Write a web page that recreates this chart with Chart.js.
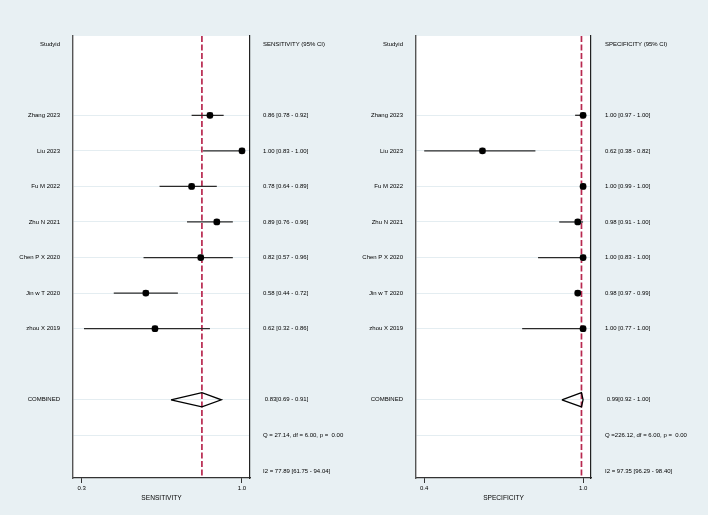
<!DOCTYPE html>
<html>
<head>
<meta charset="utf-8">
<script src="https://cdn.jsdelivr.net/npm/chart.js@4.4.0/dist/chart.umd.min.js"></script>
<style>
  body { margin: 0; background: #e8f0f3; }
  #wrap { width: 708px; height: 515px; display: flex; }
  .box { width: 354px; height: 515px; position: relative; }
</style>
</head>
<body>
<div id="wrap">
  <div class="box"><canvas id="sens"></canvas></div>
  <div class="box"><canvas id="spec"></canvas></div>
</div>
<script>
const studies = ['Zhang 2023', 'Liu 2023', 'Fu M 2022', 'Zhu N 2021', 'Chen P X 2020', 'Jin w T 2020', 'zhou X 2019'];

const sensEst = [0.86, 1.00, 0.78, 0.89, 0.82, 0.58, 0.62];
const sensLow = [0.78, 0.83, 0.64, 0.76, 0.57, 0.44, 0.31];
const sensHigh = [0.92, 1.00, 0.89, 0.96, 0.96, 0.72, 0.86];
const sensPooled = [0.825, 0.69, 0.91];
const sensText = ['0.86 [0.78 - 0.92]', '1.00 [0.83 - 1.00]', '0.78 [0.64 - 0.89]', '0.89 [0.76 - 0.96]',
  '0.82 [0.57 - 0.96]', '0.58 [0.44 - 0.72]', '0.62 [0.32 - 0.86]'];
const sensStats = [' 0.83[0.69 - 0.91]', 'Q = 27.14, df = 6.00, p =  0.00', 'I2 = 77.89 [61.75 - 94.04]'];

const specEst = [1.00, 0.62, 1.00, 0.98, 1.00, 0.98, 1.00];
const specLow = [0.97, 0.40, 0.99, 0.91, 0.83, 0.97, 0.77];
const specHigh = [1.00, 0.82, 1.00, 1.00, 1.00, 0.99, 1.00];
const specPooled = [0.994, 0.92, 1.00];
const specText = ['1.00 [0.97 - 1.00]', '0.62 [0.38 - 0.82]', '1.00 [0.99 - 1.00]', '0.98 [0.91 - 1.00]',
  '1.00 [0.83 - 1.00]', '0.98 [0.97 - 0.99]', '1.00 [0.77 - 1.00]'];
const specStats = [' 0.99[0.92 - 1.00]', 'Q =226.12, df = 6.00, p =  0.00', 'I2 = 97.35 [96.29 - 98.40]'];

const sensTicks = [0.3, 1.0];
const specTicks = [0.4, 1.0];

// rows: 0 header, 2-8 studies, 10 combined, 11 Q, 12 I2
const rows = [0, 1, 2, 3, 4, 5, 6, 7, 8, 9, 10, 11, 12];
const gridRows = [2, 3, 4, 5, 6, 7, 8, 10, 11];
const yMin = -0.23, yMax = 12.2;

const ink = '#000';
const font = { family: 'Liberation Sans, Arial, sans-serif', size: 6 };

const plotBg = {
  id: 'plotBg',
  beforeDraw(chart) {
    const a = chart.chartArea;
    const ctx = chart.ctx;
    ctx.save();
    ctx.fillStyle = '#ffffff';
    ctx.fillRect(a.left, a.top, a.right - a.left, a.bottom - a.top);
    ctx.restore();
  }
};

function makeChart(id, o) {
  const leftLabels = rows.map(r => r === 0 ? 'Studyid' : r >= 2 && r <= 8 ? studies[r - 2] : r === 10 ? 'COMBINED' : '');
  const rightLabels = rows.map(r => r === 0 ? o.header : r >= 2 && r <= 8 ? o.text[r - 2] : r >= 10 ? o.stats[r - 10] : '');

  const ciSets = o.est.map((e, i) => ({
    data: [{ x: o.low[i], y: i + 2 }, { x: o.high[i], y: i + 2 }],
    showLine: true, borderColor: '#2a2a2a', borderWidth: 1.3, pointRadius: 0
  }));
  const p = o.pooled;
  const h = 0.2;

  new Chart(document.getElementById(id), {
    type: 'scatter',
    data: {
      datasets: [
        {
          data: o.est.map((e, i) => ({ x: e, y: i + 2 })),
          pointStyle: 'circle', pointRadius: 3.4, backgroundColor: '#000', borderColor: '#000', borderWidth: 0
        },
        {
          data: o.est.map((e, i) => ({ x: e, y: i + 2 })),
          pointStyle: 'rect', pointRadius: 4.3, backgroundColor: '#a0a0a0', borderColor: '#a0a0a0', borderWidth: 0
        },
        ...ciSets,
        {
          data: [{ x: p[1], y: 10 }, { x: p[0], y: 10 - h }, { x: p[2], y: 10 }, { x: p[0], y: 10 + h }, { x: p[1], y: 10 }],
          showLine: true, borderColor: '#000', borderWidth: 1.3, pointRadius: 0, tension: 0
        },
        {
          data: [{ x: p[0], y: yMin }, { x: p[0], y: yMax }],
          showLine: true, borderColor: '#b8284f', borderWidth: 1.7, borderDash: [6, 2.5], pointRadius: 0
        }
      ]
    },
    options: {
      responsive: true,
      maintainAspectRatio: false,
      animation: false,
      layout: { padding: { top: 36, left: 0, right: 0, bottom: 0 } },
      plugins: { legend: { display: false }, tooltip: { enabled: false } },
      scales: {
        x: {
          type: 'linear', min: o.xMin, max: o.xMax,
          afterBuildTicks: s => { s.ticks = o.ticks.map(v => ({ value: v })); },
          afterFit: s => { s.height = 37; },
          ticks: { font: font, color: ink, padding: 2, maxRotation: 0, callback: v => v.toFixed(1) },
          grid: { drawOnChartArea: false, drawTicks: true, tickLength: 5, color: '#333' },
          border: { display: true, color: '#333', width: 1.2 },
          title: { display: true, text: o.title, font: { family: font.family, size: 6.6 }, color: ink, padding: { top: 1, bottom: 13 } }
        },
        y: {
          type: 'linear', position: 'left', reverse: true, min: yMin, max: yMax,
          afterBuildTicks: s => { s.ticks = rows.map(v => ({ value: v })); },
          afterFit: s => { s.width = o.leftW; },
          ticks: { font: font, color: ink, padding: 13, callback: (v, i) => leftLabels[i] },
          grid: { drawTicks: false, lineWidth: 1, color: c => gridRows.includes(c.tick && c.tick.value) ? '#e4edf1' : 'rgba(0,0,0,0)' },
          border: { display: true, color: '#555', width: 1.4 }
        },
        y2: {
          type: 'linear', position: 'right', reverse: true, min: yMin, max: yMax,
          afterBuildTicks: s => { s.ticks = rows.map(v => ({ value: v })); },
          afterFit: s => { s.width = o.rightW; },
          ticks: { font: font, color: ink, padding: o.rightPad, callback: (v, i) => rightLabels[i] },
          grid: { drawOnChartArea: false, drawTicks: false },
          border: { display: true, color: '#222', width: 1.2 }
        }
      }
    },
    plugins: [plotBg]
  });
}

makeChart('sens', {
  est: sensEst, low: sensLow, high: sensHigh, pooled: sensPooled, text: sensText, stats: sensStats,
  header: 'SENSITIVITY (95% CI)', title: 'SENSITIVITY', ticks: sensTicks,
  xMin: 0.262, xMax: 1.035, leftW: 73, rightW: 104, rightPad: 13
});

makeChart('spec', {
  est: specEst, low: specLow, high: specHigh, pooled: specPooled, text: specText, stats: specStats,
  header: 'SPECIFICITY (95% CI)', title: 'SPECIFICITY', ticks: specTicks,
  xMin: 0.369, xMax: 1.030, leftW: 62, rightW: 117, rightPad: 14
});
</script>
</body>
</html>
